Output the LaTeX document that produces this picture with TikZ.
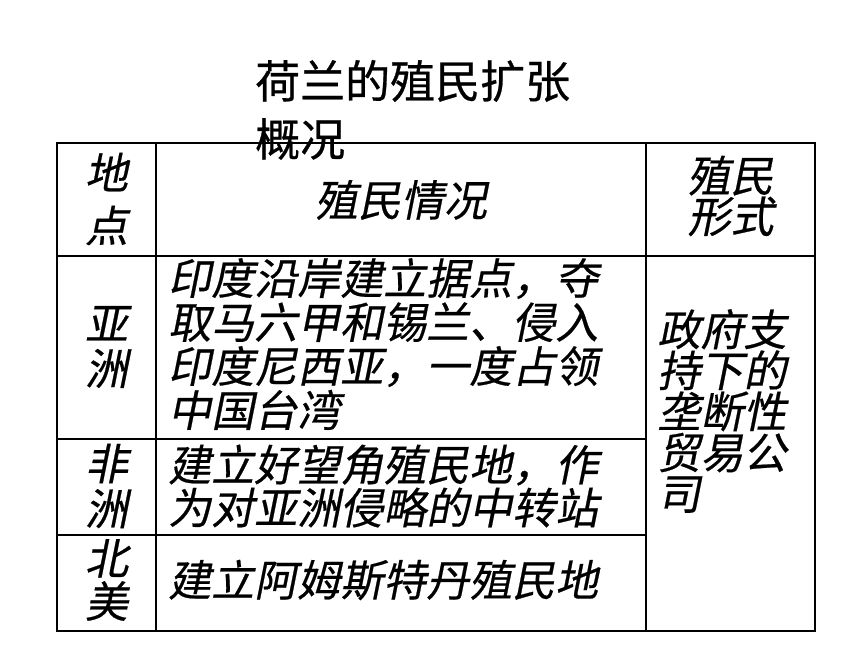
\documentclass[tikz,border=0pt]{standalone}
\usepackage{fontspec}
\newfontfamily\cjk[FakeBold=0.6]{Noto Sans CJK SC}
\newfontfamily\cjkit[FakeSlant=0.2,FakeBold=0.5]{Noto Sans CJK SC}

\begin{document}
\begin{tikzpicture}[x=1pt,y=-1pt,
	  lh/.style={font=\cjkit\fontsize{43}{#1}\selectfont},
	  cell/.style={inner sep=0pt, align=center, lh=44},
	  outer/.style={line width=2.4pt},
	  hline/.style={line width=1.8pt},
	  vline/.style={line width=1.3pt}]
	  \useasboundingbox (0,0) rectangle (860,645);

	  \draw[outer] (57,143) rectangle (815,631);
	  \draw[hline] (57,256) -- (815,256);
	  \draw[hline] (57,439) -- (646,439);
	  \draw[hline] (57,535) -- (646,535);
	  \draw[vline] (156,143) -- (156,631);
	  \draw[vline] (646,143) -- (646,631);

	  \node[inner sep=0pt, align=left, anchor=base west, font=\cjk\fontsize{45}{58}\selectfont] (title) at (255,156) {荷兰的殖民扩张\\概况};

	  \node[cell, lh=53] (place) at (106.5,199) {地\\点};
	  \node[cell] (situation) at (401,200) {殖民情况};
	  \node[cell, lh=36] (form) at (730.5,196) {殖民\\形式};

	  \node[cell, lh=45] (asia) at (106.5,347) {亚\\洲};
	  \node[cell, align=left, anchor=west] (asiatxt) at (168,344) {印度沿岸建立据点，夺\\取马六甲和锡兰、侵入\\印度尼西亚，一度占领\\中国台湾};
	  \node[cell, lh=45] (africa) at (106.5,486) {非\\洲};
	  \node[cell, lh=43, align=left, anchor=west] (africatxt) at (168,486) {建立好望角殖民地，作\\为对亚洲侵略的中转站};
	  \node[cell, lh=43] (namerica) at (106.5,580) {北\\美};
	  \node[cell, anchor=west] (namericatxt) at (168,580) {建立阿姆斯特丹殖民地};

	  \node[cell, lh=41, align=left] (company) at (722,411) {政府支\\持下的\\垄断性\\贸易公\\司};
	\end{tikzpicture}
\end{document}
